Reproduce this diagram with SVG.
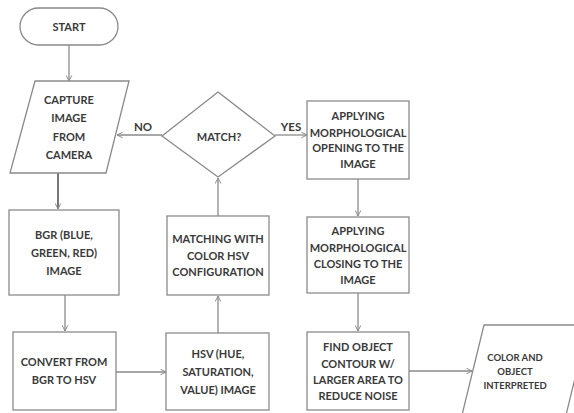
<svg xmlns="http://www.w3.org/2000/svg" width="574" height="413" viewBox="0 0 574 413">
<defs>
<style>
.s{fill:#fff;stroke:#8a8a8a;stroke-width:1.3}
.t{font-family:Lato,"Open Sans","Liberation Sans",sans-serif;font-weight:bold;font-size:11px;fill:#3a3a3a;text-anchor:middle}
.c{fill:none;stroke:#8a8a8a;stroke-width:1.3}
</style>
<marker id="a" viewBox="0 0 10 10" refX="9" refY="5" markerWidth="7" markerHeight="7" orient="auto" markerUnits="userSpaceOnUse">
<path d="M1,1 L9,5 L1,9" fill="none" stroke="#8a8a8a" stroke-width="1.4"/>
</marker>
</defs>
<rect width="574" height="413" fill="#fff"/>
<g id="connectors">
<line class="c" x1="69" y1="45" x2="69" y2="81" marker-end="url(#a)"/>
<line class="c" x1="58" y1="173" x2="58" y2="209" marker-end="url(#a)" style="stroke:#555;stroke-width:1.6"/>
<line class="c" x1="65" y1="295" x2="65" y2="331" marker-end="url(#a)"/>
<line class="c" x1="116" y1="372" x2="166" y2="372" marker-end="url(#a)"/>
<line class="c" x1="218" y1="333" x2="218" y2="296" marker-end="url(#a)"/>
<line class="c" x1="218" y1="216" x2="218" y2="178" marker-end="url(#a)"/>
<line class="c" x1="162" y1="135" x2="117" y2="135" marker-end="url(#a)"/>
<line class="c" x1="275" y1="135" x2="307" y2="135" marker-end="url(#a)"/>
<line class="c" x1="358" y1="179" x2="358" y2="216" marker-end="url(#a)"/>
<line class="c" x1="358" y1="293" x2="358" y2="331" marker-end="url(#a)"/>
<line class="c" x1="409" y1="371" x2="472" y2="371" marker-end="url(#a)"/>
<text class="t" x="143" y="131" style="font-size:11.5px">NO</text>
<text class="t" x="291" y="131" style="font-size:11.5px">YES</text>
</g>
<g id="start">
<rect class="s" x="20" y="8" width="98" height="37" rx="18.5"/>
<text class="t" x="69" y="31">START</text>
</g>
<g id="capture">
<polygon class="s" points="35,81 129,81 106,173 10,173"/>
<text class="t" x="69" y="104">CAPTURE</text>
<text class="t" x="69" y="122">IMAGE</text>
<text class="t" x="69" y="141">FROM</text>
<text class="t" x="69" y="159">CAMERA</text>
</g>
<g id="bgr">
<rect class="s" x="9" y="210" width="110" height="85"/>
<text class="t" x="64" y="239">BGR (BLUE,</text>
<text class="t" x="64" y="257">GREEN, RED)</text>
<text class="t" x="64" y="275">IMAGE</text>
</g>
<g id="convert">
<rect class="s" x="13" y="332" width="103" height="78"/>
<text class="t" x="64" y="366">CONVERT FROM</text>
<text class="t" x="64" y="384">BGR TO HSV</text>
</g>
<g id="hsv">
<rect class="s" x="166" y="333" width="103" height="77"/>
<text class="t" x="218" y="358">HSV (HUE,</text>
<text class="t" x="218" y="376">SATURATION,</text>
<text class="t" x="218" y="394">VALUE) IMAGE</text>
</g>
<g id="matching">
<rect class="s" x="167" y="216" width="102" height="79"/>
<text class="t" x="218" y="243">MATCHING WITH</text>
<text class="t" x="218" y="260">COLOR HSV</text>
<text class="t" x="218" y="276">CONFIGURATION</text>
</g>
<g id="match">
<polygon class="s" points="218,92 275,136 218,177 162,136"/>
<text class="t" x="219" y="141">MATCH?</text>
</g>
<g id="opening">
<rect class="s" x="307" y="101" width="102" height="78"/>
<text class="t" x="358" y="120">APPLYING</text>
<text class="t" x="358" y="137">MORPHOLOGICAL</text>
<text class="t" x="358" y="152">OPENING TO THE</text>
<text class="t" x="358" y="168">IMAGE</text>
</g>
<g id="closing">
<rect class="s" x="307" y="217" width="102" height="76"/>
<text class="t" x="358" y="235">APPLYING</text>
<text class="t" x="358" y="252">MORPHOLOGICAL</text>
<text class="t" x="358" y="268">CLOSING TO THE</text>
<text class="t" x="358" y="284">IMAGE</text>
</g>
<g id="find">
<rect class="s" x="307" y="332" width="102" height="78"/>
<text class="t" x="358" y="351">FIND OBJECT</text>
<text class="t" x="358" y="368">CONTOUR W/</text>
<text class="t" x="358" y="384">LARGER AREA TO</text>
<text class="t" x="358" y="400">REDUCE NOISE</text>
</g>
<g id="output">
<polygon class="s" points="484,325 588,325 566,415 462,415"/>
<text class="t" x="515" y="361" style="font-size:9.5px">COLOR AND</text>
<text class="t" x="515" y="375" style="font-size:9.5px">OBJECT</text>
<text class="t" x="515" y="389" style="font-size:9.5px">INTERPRETED</text>
</g>
</svg>
